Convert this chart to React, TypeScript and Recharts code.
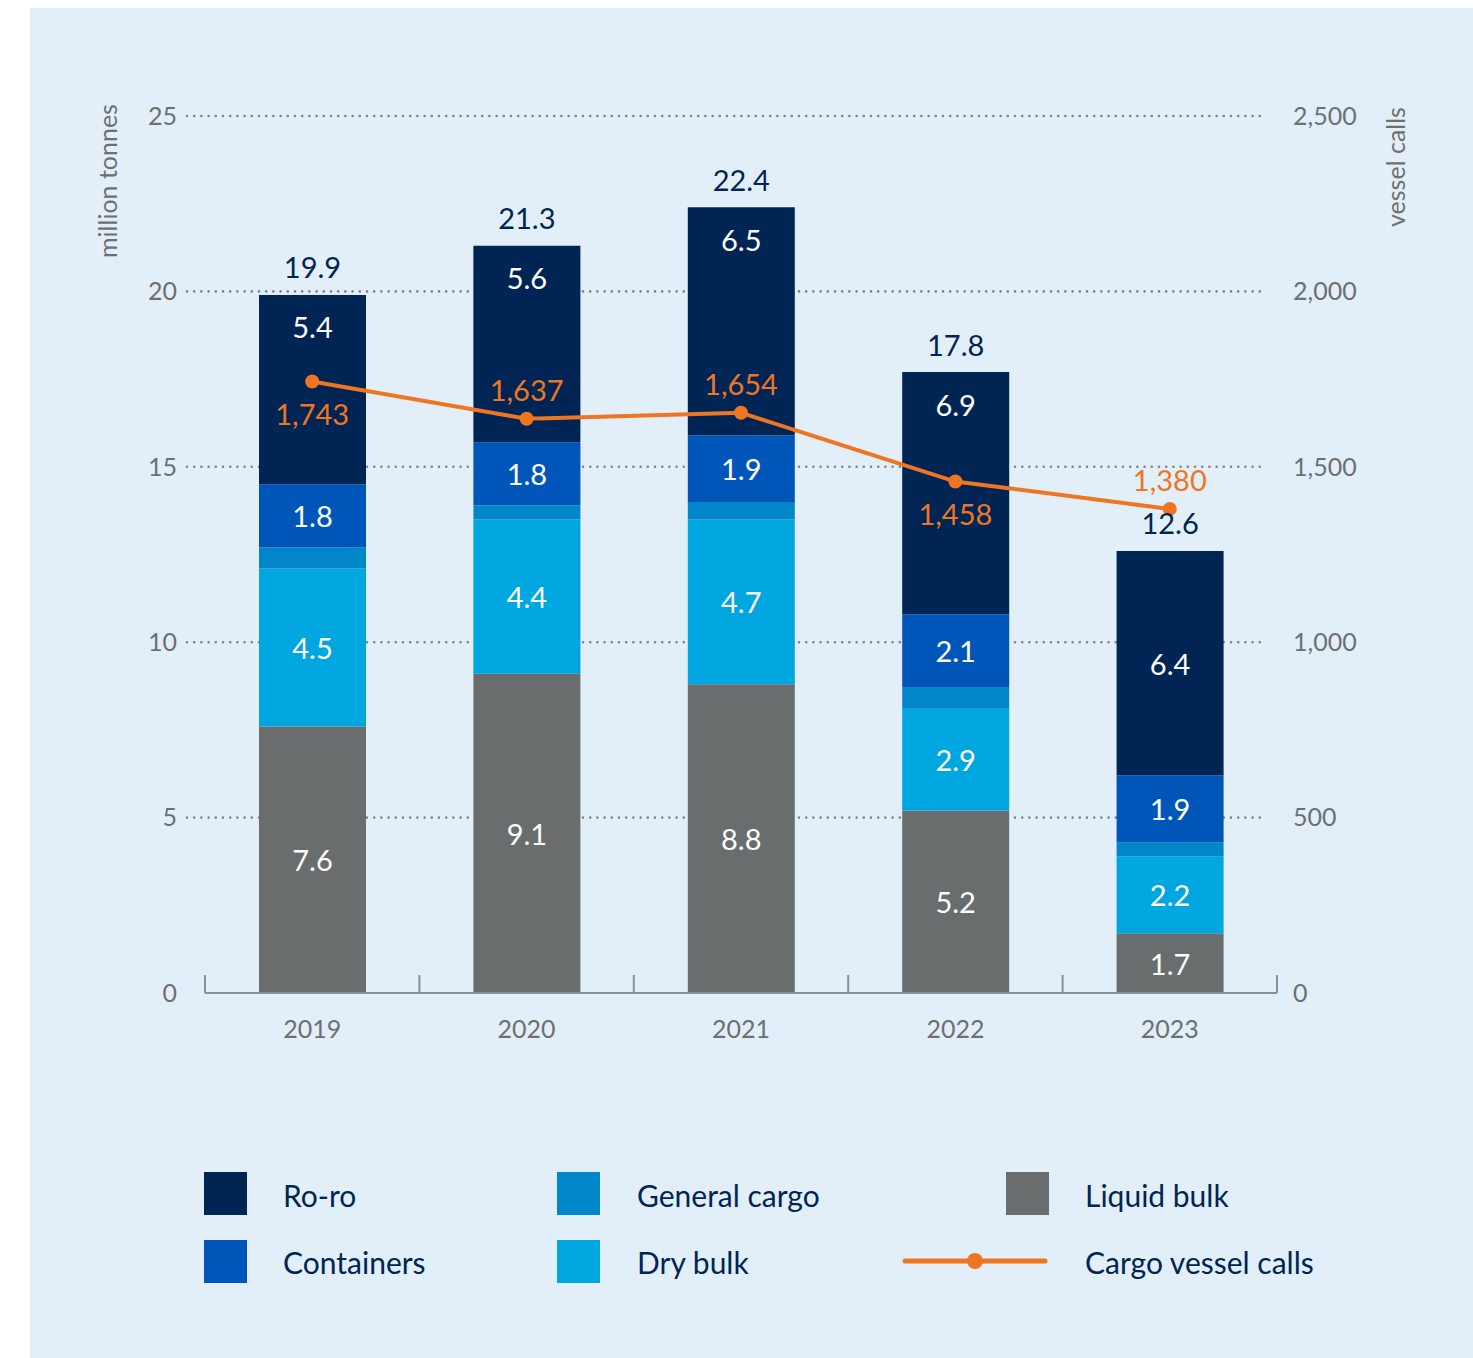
import React from 'react';
import { ComposedChart, Bar, Line, XAxis, YAxis, CartesianGrid, LabelList } from 'recharts';

const years = ['2019', '2020', '2021', '2022', '2023'];
const liquidBulk = [7.6, 9.1, 8.8, 5.2, 1.7];
const dryBulk = [4.5, 4.4, 4.7, 2.9, 2.2];
const generalCargo = [0.6, 0.4, 0.5, 0.6, 0.4];
const containers = [1.8, 1.8, 1.9, 2.1, 1.9];
const roro = [5.4, 5.6, 6.5, 6.9, 6.4];
const totals = [19.9, 21.3, 22.4, 17.8, 12.6];
const vesselCalls = [1743, 1637, 1654, 1458, 1380];
const tonnesTicks = [0, 5, 10, 15, 20, 25];
const callsTicks = [0, 500, 1000, 1500, 2000, 2500];

const data = years.map((year, i) => ({
  year,
  liquid: liquidBulk[i],
  dry: dryBulk[i],
  general: generalCargo[i],
  containers: containers[i],
  roro: roro[i],
  total: totals[i],
  calls: vesselCalls[i],
}));

const NAVY = '#002554';
const CONTAINERS = '#0056b8';
const GENERAL = '#0086c9';
const DRY = '#00a6df';
const LIQUID = '#6a6d6e';
const ORANGE = '#ee7623';
const GREY_TEXT = '#6d6f71';
const AXIS = '#8c8e90';
const BG = '#e3eff8';

const CHART_W = 1443;
const CHART_H = 1100;
const LEFT_AXIS_W = 175;
const RIGHT_AXIS_W = 196;
const PLOT_W = CHART_W - LEFT_AXIS_W - RIGHT_AXIS_W;
const HALF_BAND = PLOT_W / years.length / 2;

// labels for vessel calls: which sit under the point
const callLabelBelow = [true, false, false, true, false];
// ro-ro value sits near the top of the bar where the line passes through the middle
const roroLabelTop = [true, true, true, true, false];

const fmt = (v: number) => v.toLocaleString('en-US');

const box = (props: any) => {
  const vb = props.viewBox || {};
  return {
    x: props.x ?? vb.x,
    y: props.y ?? vb.y,
    width: props.width ?? vb.width,
    height: props.height ?? vb.height,
  };
};

const centerLabel = (props: any) => {
  const { x, y, width, height } = box(props);
  return (
    <text x={x + width / 2} y={y + height / 2} textAnchor="middle" dominantBaseline="central" fill="#ffffff" fontSize={29}>
      {props.value}
    </text>
  );
};

const roroLabel = (props: any) => {
  const { x, y, width, height } = box(props);
  const cy = roroLabelTop[props.index] ? y + 32 : y + height / 2;
  return (
    <text x={x + width / 2} y={cy} textAnchor="middle" dominantBaseline="central" fill="#ffffff" fontSize={29}>
      {props.value}
    </text>
  );
};

const totalLabel = (props: any) => {
  const { x, y, width } = box(props);
  return (
    <text x={x + width / 2} y={y - 28} textAnchor="middle" dominantBaseline="central" fill={NAVY} fontSize={29}>
      {props.value}
    </text>
  );
};

const callsLabel = (props: any) => {
  const { x, y } = box(props);
  const dy = callLabelBelow[props.index] ? 32 : -29;
  return (
    <text x={x} y={y + dy} textAnchor="middle" dominantBaseline="central" fill={ORANGE} fontSize={29}>
      {fmt(props.value)}
    </text>
  );
};

const YearTick = (props: any) => {
  const { x, y, payload, index } = props;
  const last = index === years.length - 1;
  return (
    <g>
      <line x1={x - HALF_BAND} x2={x - HALF_BAND} y1={y - 18} y2={y} stroke={AXIS} strokeWidth={2} />
      {last && <line x1={x + HALF_BAND} x2={x + HALF_BAND} y1={y - 18} y2={y} stroke={AXIS} strokeWidth={2} />}
      <text x={x} y={y + 35} textAnchor="middle" dominantBaseline="central" fill={GREY_TEXT} fontSize={25}>
        {payload.value}
      </text>
    </g>
  );
};

const gridLine = (props: any) => {
  if (props.y1 > CHART_H - 120) return <g key={props.key} />;
  return (
    <line
      key={props.key}
      x1={props.x1 - 18}
      x2={props.x2 - 12}
      y1={props.y1}
      y2={props.y2}
      stroke="#7f8284"
      strokeWidth={2.6}
      strokeDasharray="0 7.2"
      strokeLinecap="round"
    />
  );
};

const Swatch = ({ color, left, top }: { color: string; left: number; top: number }) => (
  <div style={{ position: 'absolute', left, top, width: 43, height: 43, background: color }} />
);

const LegendText = ({ text, left, top }: { text: string; left: number; top: number }) => (
  <div style={{ position: 'absolute', left, top: top - 20, height: 40, lineHeight: '40px', fontSize: 30, color: NAVY, whiteSpace: 'nowrap' }}>
    {text}
  </div>
);

export default function App() {
  return (
    <div
      style={{
        position: 'fixed',
        left: 30,
        top: 8,
        width: CHART_W,
        height: 1350,
        background: BG,
        fontFamily: 'Lato, "Noto Sans", sans-serif',
      }}
    >
      <ComposedChart
        width={CHART_W}
        height={CHART_H}
        data={data}
        margin={{ top: 108, right: 0, bottom: 0, left: 0 }}
        barCategoryGap={0}
      >
        <CartesianGrid yAxisId="left" vertical={false} horizontal={gridLine} />
        <XAxis
          dataKey="year"
          height={115}
          tickSize={0}
          tickMargin={0}
          tickLine={false}
          axisLine={{ stroke: AXIS, strokeWidth: 2 }}
          tick={<YearTick />}
          interval={0}
        />
        <YAxis
          yAxisId="left"
          orientation="left"
          width={LEFT_AXIS_W}
          domain={[0, 25]}
          ticks={tonnesTicks}
          axisLine={false}
          tickLine={false}
          tickSize={6}
          tickMargin={22}
          tick={{ fill: GREY_TEXT, fontSize: 25 }}
          label={{
            value: 'million tonnes',
            content: () => (
              <text x={77} y={173} transform="rotate(-90 77 173)" textAnchor="middle" dominantBaseline="central" fill={GREY_TEXT} fontSize={25}>
                million tonnes
              </text>
            ),
          }}
        />
        <YAxis
          yAxisId="right"
          orientation="right"
          width={RIGHT_AXIS_W}
          domain={[0, 2500]}
          ticks={callsTicks}
          axisLine={false}
          tickLine={false}
          tickSize={6}
          tickMargin={10}
          tickFormatter={fmt}
          tick={{ fill: GREY_TEXT, fontSize: 25, textAnchor: 'start' }}
          label={{
            value: 'vessel calls',
            content: () => (
              <text x={1365} y={159} transform="rotate(-90 1365 159)" textAnchor="middle" dominantBaseline="central" fill={GREY_TEXT} fontSize={25}>
                vessel calls
              </text>
            ),
          }}
        />
        <Bar yAxisId="left" dataKey="liquid" stackId="t" fill={LIQUID} barSize={107} isAnimationActive={false}>
          <LabelList dataKey="liquid" content={centerLabel} />
        </Bar>
        <Bar yAxisId="left" dataKey="dry" stackId="t" fill={DRY} barSize={107} isAnimationActive={false}>
          <LabelList dataKey="dry" content={centerLabel} />
        </Bar>
        <Bar yAxisId="left" dataKey="general" stackId="t" fill={GENERAL} barSize={107} isAnimationActive={false} />
        <Bar yAxisId="left" dataKey="containers" stackId="t" fill={CONTAINERS} barSize={107} isAnimationActive={false}>
          <LabelList dataKey="containers" content={centerLabel} />
        </Bar>
        <Bar yAxisId="left" dataKey="roro" stackId="t" fill={NAVY} barSize={107} isAnimationActive={false}>
          <LabelList dataKey="roro" content={roroLabel} />
          <LabelList dataKey="total" content={totalLabel} />
        </Bar>
        <Line
          yAxisId="right"
          dataKey="calls"
          type="linear"
          stroke={ORANGE}
          strokeWidth={4}
          dot={{ r: 7, fill: ORANGE, stroke: 'none' }}
          activeDot={false}
          isAnimationActive={false}
        >
          <LabelList dataKey="calls" content={callsLabel} />
        </Line>
      </ComposedChart>

      <Swatch color={NAVY} left={174} top={1164} />
      <LegendText text="Ro-ro" left={253} top={1187} />
      <Swatch color={CONTAINERS} left={174} top={1232} />
      <LegendText text="Containers" left={253} top={1254} />

      <Swatch color={GENERAL} left={527} top={1164} />
      <LegendText text="General cargo" left={607} top={1187} />
      <Swatch color={DRY} left={527} top={1232} />
      <LegendText text="Dry bulk" left={607} top={1254} />

      <Swatch color={LIQUID} left={976} top={1164} />
      <LegendText text="Liquid bulk" left={1055} top={1187} />
      <svg style={{ position: 'absolute', left: 870, top: 1240 }} width={150} height={26}>
        <line x1={5} x2={145} y1={13} y2={13} stroke={ORANGE} strokeWidth={5} strokeLinecap="round" />
        <circle cx={75} cy={13} r={8} fill={ORANGE} />
      </svg>
      <LegendText text="Cargo vessel calls" left={1055} top={1254} />
    </div>
  );
}
